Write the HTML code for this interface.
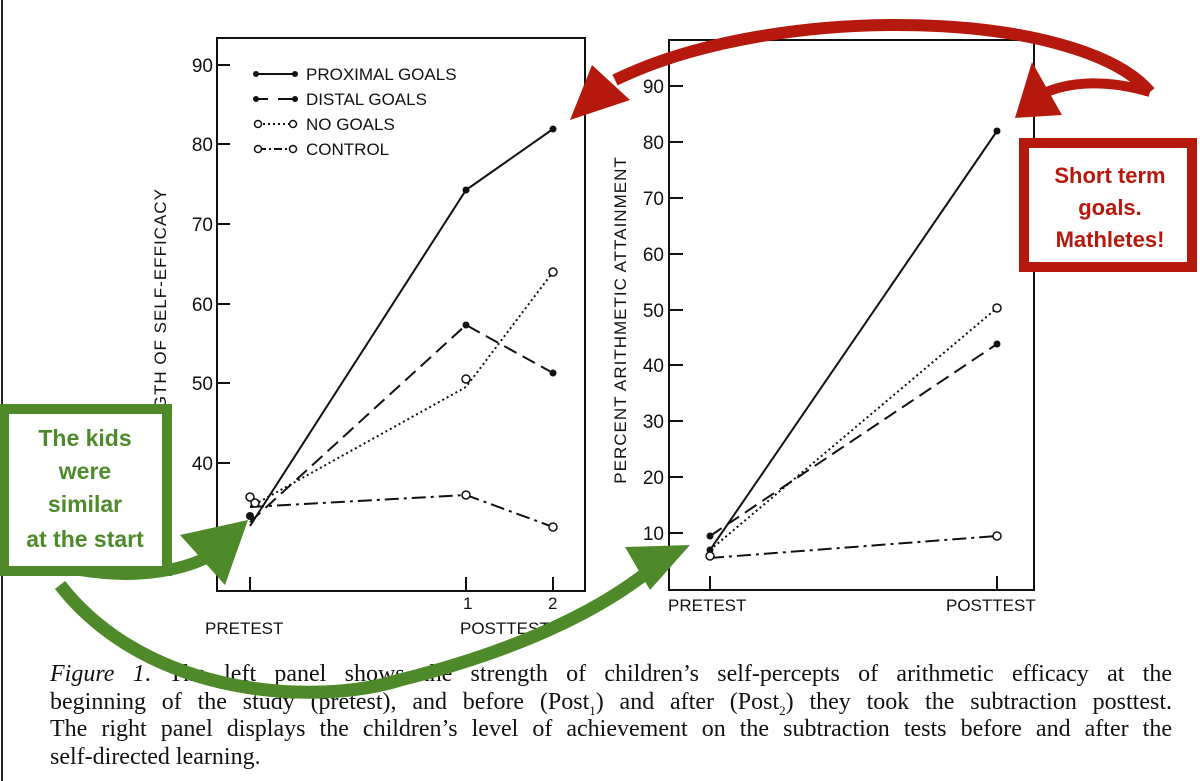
<!DOCTYPE html>
<html><head><style>
body{margin:0;background:#fff;width:1200px;height:781px;overflow:hidden}
svg{position:absolute;left:0;top:0}
.cap{position:absolute;left:50px;top:661px;width:1122px;font-family:"Liberation Serif",serif;font-size:24px;line-height:27.5px;color:#111}
.cap div{text-align:justify;text-align-last:justify;white-space:nowrap}
.cap div.l{text-align-last:left}
</style></head><body>
<svg width="1200" height="781" font-family="Liberation Sans, sans-serif">
<line x1="2" y1="0" x2="2" y2="781" stroke="#222" stroke-width="2"/>
<g stroke="#111" stroke-width="2" fill="none">
<rect x="217" y="38" width="368" height="553"/>
<path d="M217 65H230M217 144H230M217 224H230M217 304H230M217 383H230M217 463H230M250 591V577M466 591V577M553 591V577"/>
</g>
<g font-size="19" fill="#111" text-anchor="end">
<text x="213" y="72">90</text><text x="213" y="151">80</text><text x="213" y="231">70</text><text x="213" y="311">60</text><text x="213" y="390">50</text><text x="213" y="470">40</text>
</g>
<text transform="translate(166 330) rotate(-90)" font-size="17" text-anchor="middle" fill="#111" letter-spacing="1">STRENGTH OF SELF-EFFICACY</text>
<g font-size="17" fill="#111">
<text x="306" y="80">PROXIMAL GOALS</text><text x="306" y="105">DISTAL GOALS</text><text x="306" y="130">NO GOALS</text><text x="306" y="155">CONTROL</text>
<text x="205" y="634">PRETEST</text><text x="460" y="634">POSTTEST</text>
<text x="463" y="609">1</text><text x="548" y="609">2</text>
</g>
<g stroke="#111" stroke-width="2" fill="none">
<path d="M256 74H295"/><path d="M256 99H268M278 99H295" />
<path d="M258 124H293" stroke-dasharray="2 3"/><path d="M258 149H293" stroke-dasharray="8 3 2 3"/>
<path d="M250 526L466 190L553 129"/>
<path d="M250 522L466 325L553 373" stroke-dasharray="14 7"/>
<path d="M250 507L466 387L553 272" stroke-dasharray="2 3"/>
<path d="M250 507L466 495L553 527" stroke-dasharray="14 5 3 5"/>
</g>
<g fill="#111"><circle cx="256" cy="74" r="3"/><circle cx="295" cy="74" r="3"/><circle cx="256" cy="99" r="3"/><circle cx="295" cy="99" r="3"/>
<circle cx="250" cy="516" r="4"/><circle cx="466" cy="190" r="3.5"/><circle cx="553" cy="129" r="3.5"/><circle cx="466" cy="325" r="3.5"/><circle cx="553" cy="373" r="3.5"/></g>
<g fill="#fff" stroke="#111" stroke-width="1.5"><circle cx="258" cy="124" r="3.5"/><circle cx="293" cy="124" r="3.5"/><circle cx="258" cy="149" r="3.5"/><circle cx="293" cy="149" r="3.5"/>
<circle cx="250" cy="497" r="4"/><circle cx="255" cy="503" r="4"/><circle cx="466" cy="379" r="4"/><circle cx="553" cy="272" r="4"/><circle cx="466" cy="495" r="4"/><circle cx="553" cy="527" r="4"/></g>
<g stroke="#111" stroke-width="2" fill="none">
<rect x="669" y="40" width="365" height="550"/>
<path d="M669 86H683M669 142H683M669 198H683M669 254H683M669 310H683M669 365H683M669 421H683M669 477H683M669 533H683M710 590V576M997 590V576"/>
</g>
<g font-size="19" fill="#111" text-anchor="end">
<text x="664" y="93">90</text><text x="664" y="149">80</text><text x="664" y="205">70</text><text x="664" y="261">60</text><text x="664" y="317">50</text><text x="664" y="372">40</text><text x="664" y="428">30</text><text x="664" y="484">20</text><text x="664" y="540">10</text>
</g>
<text transform="translate(626 320) rotate(-90)" font-size="17" text-anchor="middle" fill="#111" letter-spacing="1">PERCENT ARITHMETIC ATTAINMENT</text>
<g font-size="17" fill="#111"><text x="668" y="611">PRETEST</text><text x="946" y="611">POSTTEST</text></g>
<g stroke="#111" stroke-width="2" fill="none">
<path d="M710 550L997 131"/>
<path d="M710 536L997 344" stroke-dasharray="14 7"/>
<path d="M710 550L997 308" stroke-dasharray="2 3"/>
<path d="M710 558L997 536" stroke-dasharray="14 5 3 5"/>
</g>
<g fill="#111"><circle cx="710" cy="550" r="3.5"/><circle cx="997" cy="131" r="3.5"/><circle cx="710" cy="536" r="3.5"/><circle cx="997" cy="344" r="3.5"/></g>
<g fill="#fff" stroke="#111" stroke-width="1.5"><circle cx="710" cy="556" r="4"/><circle cx="997" cy="308" r="4"/><circle cx="997" cy="536" r="4"/></g>
<path d="M1150 92C1080 10 780 0 615 80" stroke="#b5180c" stroke-width="12" fill="none"/>
<path d="M570 120L592 65L630 100Z" fill="#b5180c"/>
<path d="M1015 118L1032 62L1062 115Z" fill="#b5180c"/>
<path d="M1040 95C1070 80 1110 80 1150 92" stroke="#b5180c" stroke-width="10" fill="none"/>
<rect x="1024" y="143" width="168" height="124" fill="#fff" stroke="#b5180c" stroke-width="10"/>
<g font-size="22" font-weight="bold" fill="#b5180c" text-anchor="middle"><text x="1110" y="183">Short term</text><text x="1110" y="215">goals.</text><text x="1110" y="247">Mathletes!</text></g>
</svg>
<div class="cap">
<div><i>Figure 1</i>. The left panel shows the strength of children’s self-percepts of arithmetic efficacy at the</div>
<div>beginning of the study (pretest), and before (Post<sub style="font-size:13px;line-height:0">1</sub>) and after (Post<sub style="font-size:13px;line-height:0">2</sub>) they took the subtraction posttest.</div>
<div>The right panel displays the children’s level of achievement on the subtraction tests before and after the</div>
<div class="l">self-directed learning.</div>
</div>
<svg width="1200" height="781" font-family="Liberation Sans, sans-serif">
<path d="M60 585C150 700 320 705 400 680C520 650 600 610 650 570" stroke="#4e8a2a" stroke-width="13" fill="none"/>
<path d="M80 570C140 580 190 570 220 550" stroke="#4e8a2a" stroke-width="12" fill="none"/>
<path d="M180 535L248 520L225 585Z" fill="#4e8a2a"/>
<path d="M625 547L690 545L650 590Z" fill="#4e8a2a"/>
<rect x="4" y="409" width="163" height="162" fill="#fff" stroke="#4e8a2a" stroke-width="10"/>
<g font-size="23" font-weight="bold" fill="#4e8a2a" text-anchor="middle"><text x="85" y="446">The kids</text><text x="85" y="479">were</text><text x="85" y="512">similar</text><text x="85" y="547">at the start</text></g>
</svg>
</body></html>
